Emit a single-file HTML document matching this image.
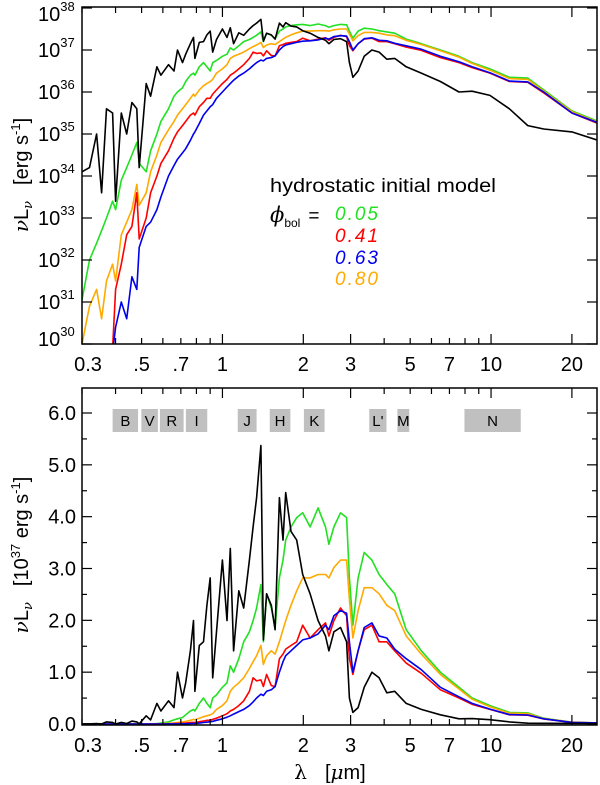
<!DOCTYPE html>
<html><head><meta charset="utf-8"><style>
html,body{margin:0;padding:0;background:#fff;}
svg{display:block;font-family:"Liberation Sans",sans-serif;}
</style></head><body>
<svg id="chart" width="600" height="785" viewBox="0 0 600 785" xmlns="http://www.w3.org/2000/svg">
<defs>
<clipPath id="clipTop"><rect x="82" y="7" width="515" height="337"/></clipPath>
<clipPath id="clipBot"><rect x="82" y="388" width="515" height="337"/></clipPath>
</defs>
<g id="bands"></g>
<g id="seriesTop" clip-path="url(#clipTop)"></g>
<g id="seriesBot" clip-path="url(#clipBot)"></g>
<g id="axes"></g>
<g font-size="19">
<text x="270" y="192" textLength="226" lengthAdjust="spacingAndGlyphs">hydrostatic initial model</text>
<text x="270" y="222" font-family="DejaVu Serif, serif" font-style="italic" font-size="21">ϕ<tspan font-family="Liberation Sans" font-style="normal" font-size="12" dy="5">bol</tspan><tspan font-family="Liberation Sans" font-style="normal" font-size="19" dy="-5" dx="8">=</tspan></text>
<text x="335" y="220" font-style="italic" fill="#22e022" textLength="43">0.05</text>
<text x="335" y="242" font-style="italic" fill="#ff0000" textLength="43">0.41</text>
<text x="335" y="264" font-style="italic" fill="#0000ee" textLength="43">0.63</text>
<text x="335" y="285" font-style="italic" fill="#ffaa00" textLength="43">0.80</text>
</g>
<text transform="translate(28,175) rotate(-90)" text-anchor="middle" font-size="20"><tspan font-family="DejaVu Serif, serif" font-style="italic">ν</tspan>L<tspan font-family="DejaVu Serif, serif" font-style="italic" font-size="13" dy="4">ν</tspan><tspan dy="-4" dx="16">[erg s</tspan><tspan font-size="13" dy="-8">-1</tspan><tspan dy="8">]</tspan></text>
<text transform="translate(28,555) rotate(-90)" text-anchor="middle" font-size="20"><tspan font-family="DejaVu Serif, serif" font-style="italic">ν</tspan>L<tspan font-family="DejaVu Serif, serif" font-style="italic" font-size="13" dy="4">ν</tspan><tspan dy="-4" dx="16">[10</tspan><tspan font-size="13" dy="-8">37</tspan><tspan dy="8"> erg s</tspan><tspan font-size="13" dy="-8">-1</tspan><tspan dy="8">]</tspan></text>
<text x="330" y="779" text-anchor="middle" font-size="20"><tspan font-family="DejaVu Serif, serif">λ</tspan><tspan dx="18">[</tspan><tspan font-family="DejaVu Serif, serif" font-style="italic">μ</tspan>m]</text>
</svg>
<script>
const wavelengths=[0.30,0.32,0.34,0.355,0.37,0.39,0.40,0.42,0.44,0.46,0.48,0.49,0.52,0.54,0.57,0.59,0.63,0.66,0.68,0.71,0.73,0.76,0.78,0.79,0.82,0.85,0.875,0.90,0.92,0.95,1.00,1.04,1.07,1.10,1.15,1.20,1.26,1.30,1.34,1.39,1.42,1.46,1.52,1.57,1.63,1.68,1.72,1.80,1.89,1.99,2.12,2.27,2.42,2.49,2.6,2.75,2.90,2.97,3.06,3.2,3.37,3.6,3.83,4.09,4.38,4.83,5.5,6.48,7.6,8.5,9.9,11.7,13.7,15.7,20,25];
const logL_black=[34.1,34.2,35.0,33.6,35.6,35.5,33.4,35.5,35.0,35.75,35.6,34.2,36.2,35.9,36.6,36.4,36.65,36.5,37.0,36.7,36.9,37.15,37.3,36.8,37.18,37.2,37.36,37.45,36.95,37.25,37.5,37.3,37.53,37.15,37.41,37.35,37.5,37.58,37.64,37.73,37.21,37.4,37.36,37.26,37.64,37.55,37.65,37.57,37.55,37.46,37.4,37.3,37.23,37.15,37.25,37.27,37.2,36.7,36.35,36.5,36.85,37.0,36.95,36.78,36.8,36.6,36.45,36.25,36.0,36.02,35.92,35.6,35.2,35.12,35.05,34.85];
const logL_green=[31.05,32.0,32.4,32.7,33.0,33.4,33.2,33.9,34.2,34.5,34.8,34.3,34.1,34.6,35.0,35.3,35.6,35.9,36.0,36.1,36.25,36.4,36.45,36.4,36.6,36.7,36.6,36.5,36.7,36.75,36.85,36.9,37.05,37.0,37.1,37.2,37.25,37.3,37.35,37.43,37.2,37.4,37.35,37.27,37.45,37.5,37.55,37.58,37.6,37.61,37.58,37.62,37.58,37.54,37.58,37.61,37.6,37.45,37.28,37.45,37.52,37.5,37.46,37.43,37.4,37.26,37.15,37.0,36.85,36.7,36.55,36.35,36.33,36.05,35.55,35.3];
const logL_orange=[30.0,30.9,31.3,30.6,31.5,31.9,31.5,32.6,32.9,33.2,33.8,33.3,33.6,34.1,34.5,34.8,35.1,35.3,35.45,35.6,35.7,35.85,35.95,35.9,36.05,36.15,36.2,36.25,36.3,36.45,36.55,36.65,36.8,36.85,36.9,36.95,37.03,37.08,37.12,37.18,37.06,37.12,37.15,37.13,37.2,37.26,37.3,37.36,37.41,37.45,37.45,37.46,37.46,37.45,37.48,37.5,37.5,37.38,37.22,37.34,37.42,37.42,37.4,37.36,37.34,37.23,37.13,36.98,36.83,36.68,36.52,36.32,36.3,36.02,35.53,35.28];
const logL_red=[28.5,28.8,29.3,29.0,29.5,29.9,31.3,31.9,32.6,32.8,33.6,32.5,33.0,33.6,34.0,34.3,34.6,34.9,35.05,35.2,35.3,35.45,35.5,35.45,35.65,35.75,35.85,35.85,35.95,36.05,36.2,36.3,36.4,36.45,36.55,36.65,36.8,36.95,36.92,36.93,36.86,36.98,36.87,36.86,37.1,37.13,37.16,37.18,37.2,37.28,37.22,37.26,37.29,37.23,37.3,37.35,37.32,37.1,36.98,37.15,37.26,37.28,37.2,37.2,37.15,37.07,36.99,36.82,36.7,36.58,36.45,36.25,36.23,35.98,35.5,35.25];
const logL_blue=[27.5,28.0,28.5,28.5,29.3,29.8,30.4,31.0,30.6,31.6,31.3,32.3,32.8,32.9,33.2,33.5,34.0,34.25,34.4,34.55,34.65,34.85,35.0,35.05,35.25,35.45,35.55,35.65,35.7,35.85,36.0,36.12,36.2,36.28,36.38,36.45,36.55,36.63,36.7,36.76,36.74,36.8,36.82,36.86,37.0,37.08,37.12,37.15,37.18,37.21,37.22,37.24,37.28,37.26,37.32,37.34,37.33,37.2,37.0,37.15,37.27,37.29,37.23,37.22,37.16,37.1,37.02,36.85,36.72,36.6,36.46,36.26,36.24,36.0,35.5,35.27];
const xTickLabels=["0.3",".5",".7","1","2","3","5","7","10","20"];
const xTickValues=[0.3,0.5,0.7,1,2,3,5,7,10,20];
const topExponents=[30,31,32,33,34,35,36,37,38];
const botTickValues=[0,1,2,3,4,5,6];
const botTickLabels=["0.0","1.0","2.0","3.0","4.0","5.0","6.0"];
const bandNames=["B","V","R","I","J","H","K","L'","M","N"];
const bandStart=[0.39,0.499,0.585,0.731,1.14,1.5,2.01,3.52,4.48,7.96];
const bandEnd=[0.485,0.575,0.717,0.878,1.34,1.79,2.4,4.08,4.96,12.9];

const NS="http://www.w3.org/2000/svg";
const X0=82,X1=597,LMIN=0.3,LMAX=24.8;
function xs(l){return X0+(Math.log10(l)-Math.log10(LMIN))/(Math.log10(LMAX)-Math.log10(LMIN))*(X1-X0);}
const TY0=8,TY1=344;
function yTop(lg){return TY0+(38-lg)/8*(TY1-TY0);}
const BY0=413,BY1=724;
function yBot(v){return BY1-v/6*(BY1-BY0);}
function mk(tag,attrs,parent){const e=document.createElementNS(NS,tag);for(const k in attrs)e.setAttribute(k,attrs[k]);parent.appendChild(e);return e;}

const series=[["green",logL_green,"#22e022"],["orange",logL_orange,"#ffaa00"],["red",logL_red,"#ff0000"],["blue",logL_blue,"#0000ee"],["black",logL_black,"#000000"]];
const gT=document.getElementById('seriesTop'),gB=document.getElementById('seriesBot');
series.forEach(s=>{
  let dT="",dB="";
  wavelengths.forEach((l,i)=>{
    const lg=s[1][i];
    dT+=(i?"L":"M")+xs(l).toFixed(1)+","+yTop(Math.max(lg,29)).toFixed(1);
    dB+=(i?"L":"M")+xs(l).toFixed(1)+","+yBot(Math.pow(10,lg-37)).toFixed(1);
  });
  const p1=mk('path',{d:dT,fill:"none",stroke:s[2],"stroke-width":"1.6","stroke-linejoin":"round"},gT);
  
  
  const p2=mk('path',{d:dB,fill:"none",stroke:s[2],"stroke-width":"1.6","stroke-linejoin":"round"},gB);
  
  
});

const gBand=document.getElementById('bands');
bandNames.forEach((n,i)=>{
  const x1=xs(bandStart[i]),x2=xs(bandEnd[i]);
  const r=mk('rect',{x:x1,y:409,width:x2-x1,height:23,fill:"#c0c0c0"},gBand);
  
  
  const t=mk('text',{x:(x1+x2)/2,y:426,"text-anchor":"middle","font-size":"15"},gBand);
  
  
  t.textContent=n;
});

const gA=document.getElementById('axes');
[[7,344],[388,725]].forEach((f,pi)=>{
  const r=mk('rect',{x:X0,y:f[0],width:X1-X0,height:f[1]-f[0],fill:"none",stroke:"#000","stroke-width":"1.5"},gA);
  
  
  const minor=[0.4,0.6,0.8,0.9,4,6,8,9];
  const major=[0.3,0.5,0.7,1,2,3,5,7,10,20];
  major.concat(minor).forEach(v=>{
    const x=xs(v),len=(v===1||v===10||v===2||v===20||v===3)?10:6;
    mk('line',{x1:x,x2:x,y1:f[1],y2:f[1]-len,stroke:"#000","stroke-width":"1.2"},gA);
    mk('line',{x1:x,x2:x,y1:f[0],y2:f[0]+len,stroke:"#000","stroke-width":"1.2"},gA);
  });
  xTickLabels.forEach((lab,i)=>{
    const t=mk('text',{x:xs(xTickValues[i])+(i===0?6:0),y:f[1]+27,"text-anchor":"middle","font-size":"20"},gA);
    
    
    t.textContent=lab;
  });
});
topExponents.forEach(e=>{
  const y=yTop(e);
  mk('line',{x1:X0,x2:X0+10,y1:y,y2:y,stroke:"#000","stroke-width":"1.2"},gA);
  mk('line',{x1:X1,x2:X1-10,y1:y,y2:y,stroke:"#000","stroke-width":"1.2"},gA);
  const off=(e===38)?13:(e===30?2:7);
  const t=mk('text',{x:38,y:y+off,"font-size":"20"},gA);
  
  
  t.innerHTML='10<tspan font-size="13" dy="-10">'+e+'</tspan>';
});
for(let v=0;v<=6.01;v+=0.5){
  const y=yBot(v),len=(Math.abs(v-Math.round(v))<0.01)?10:5;
  mk('line',{x1:X0,x2:X0+len,y1:y,y2:y,stroke:"#000","stroke-width":"1.2"},gA);
  mk('line',{x1:X1,x2:X1-len,y1:y,y2:y,stroke:"#000","stroke-width":"1.2"},gA);
}
botTickValues.forEach((v,i)=>{
  const t=mk('text',{x:76,y:yBot(v)+7,"text-anchor":"end","font-size":"20"},gA);
  
  
  t.textContent=botTickLabels[i];
});
</script>
</body></html>
